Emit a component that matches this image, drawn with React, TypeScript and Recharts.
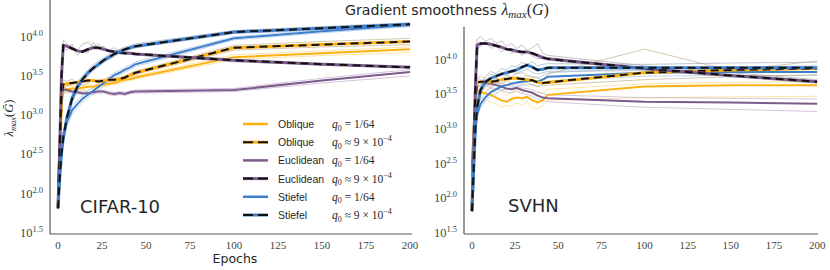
import React from 'react'
import { LineChart, Line, XAxis, YAxis } from 'recharts'

// epochs at which lambda_max was logged
const epochs = [0, 1, 2, 3, 5, 8, 11, 14, 17, 20, 23, 26, 29, 32, 35, 38, 41, 44, 100, 150, 200]
const xTicks = [0, 25, 50, 75, 100, 125, 150, 175, 200]
const yTicks = [1.5, 2.0, 2.5, 3.0, 3.5, 4.0] // log10 exponents

// ---- CIFAR-10, log10 lambda_max (mean + two seeds) ----
const cifarObliqueQ64 = [2.0, 2.6, 3.1, 3.30, 3.32, 3.33, 3.33, 3.34, 3.35, 3.35, 3.37, 3.38, 3.39, 3.40, 3.42, 3.44, 3.45, 3.47, 3.73, 3.78, 3.83]
const cifarObliqueQ64Runs = [
  [2.0, 2.6, 3.2, 3.36, 3.37, 3.35, 3.38, 3.36, 3.39, 3.37, 3.40, 3.41, 3.40, 3.43, 3.45, 3.46, 3.48, 3.49, 3.76, 3.81, 3.86],
  [2.0, 2.5, 3.0, 3.26, 3.28, 3.30, 3.29, 3.31, 3.31, 3.33, 3.34, 3.35, 3.37, 3.38, 3.39, 3.41, 3.43, 3.45, 3.70, 3.75, 3.79],
]
const cifarObliqueQ9 = [1.8, 2.5, 3.2, 3.38, 3.39, 3.40, 3.41, 3.42, 3.43, 3.43, 3.42, 3.43, 3.44, 3.44, 3.45, 3.47, 3.50, 3.53, 3.85, 3.89, 3.93]
const cifarObliqueQ9Runs = [
  [1.8, 2.5, 3.3, 3.44, 3.42, 3.45, 3.40, 3.46, 3.44, 3.41, 3.45, 3.43, 3.47, 3.45, 3.47, 3.49, 3.52, 3.55, 3.88, 3.93, 3.97],
  [1.8, 2.4, 3.1, 3.34, 3.36, 3.38, 3.42, 3.37, 3.40, 3.44, 3.40, 3.41, 3.42, 3.42, 3.44, 3.45, 3.48, 3.51, 3.82, 3.86, 3.89],
]
const cifarEuclideanQ64 = [2.0, 2.7, 3.2, 3.32, 3.31, 3.29, 3.28, 3.27, 3.27, 3.28, 3.29, 3.29, 3.27, 3.26, 3.27, 3.26, 3.28, 3.29, 3.31, 3.43, 3.54]
const cifarEuclideanQ64Runs = [
  [2.0, 2.7, 3.25, 3.35, 3.33, 3.31, 3.30, 3.30, 3.28, 3.30, 3.31, 3.30, 3.29, 3.28, 3.29, 3.28, 3.30, 3.31, 3.33, 3.46, 3.57],
  [2.0, 2.6, 3.15, 3.29, 3.28, 3.27, 3.26, 3.25, 3.25, 3.26, 3.27, 3.27, 3.25, 3.24, 3.25, 3.24, 3.26, 3.27, 3.29, 3.40, 3.49],
]
const cifarEuclideanQ9 = [1.8, 2.6, 3.5, 3.88, 3.87, 3.84, 3.81, 3.80, 3.83, 3.85, 3.85, 3.83, 3.81, 3.80, 3.79, 3.78, 3.78, 3.77, 3.69, 3.64, 3.60]
const cifarEuclideanQ9Runs = [
  [1.8, 2.6, 3.55, 3.95, 3.90, 3.86, 3.82, 3.90, 3.92, 3.86, 3.90, 3.84, 3.82, 3.85, 3.80, 3.80, 3.79, 3.78, 3.70, 3.64, 3.59],
  [1.8, 2.5, 3.45, 3.85, 3.82, 3.90, 3.75, 3.82, 3.78, 3.92, 3.84, 3.87, 3.80, 3.78, 3.81, 3.77, 3.78, 3.76, 3.67, 3.63, 3.61],
]
const cifarStiefelQ64 = [2.0, 2.3, 2.55, 2.7, 2.9, 3.05, 3.13, 3.2, 3.25, 3.30, 3.35, 3.40, 3.45, 3.50, 3.53, 3.57, 3.60, 3.64, 3.97, 4.06, 4.14]
const cifarStiefelQ64Runs = [
  [2.0, 2.35, 2.6, 2.75, 2.95, 3.1, 3.18, 3.24, 3.30, 3.34, 3.39, 3.44, 3.48, 3.53, 3.56, 3.60, 3.63, 3.67, 3.99, 4.08, 4.16],
  [2.0, 2.25, 2.5, 2.65, 2.85, 3.0, 3.08, 3.16, 3.21, 3.26, 3.31, 3.36, 3.42, 3.47, 3.50, 3.54, 3.57, 3.61, 3.95, 4.04, 4.12],
]
const cifarStiefelQ9 = [1.8, 2.2, 2.5, 2.7, 2.95, 3.2, 3.35, 3.45, 3.53, 3.59, 3.64, 3.69, 3.73, 3.77, 3.80, 3.83, 3.85, 3.87, 4.05, 4.10, 4.15]
const cifarStiefelQ9Runs = [
  [1.8, 2.25, 2.55, 2.75, 3.0, 3.25, 3.4, 3.5, 3.57, 3.63, 3.68, 3.72, 3.77, 3.80, 3.83, 3.86, 3.88, 3.90, 4.07, 4.12, 4.17],
  [1.8, 2.15, 2.45, 2.65, 2.9, 3.15, 3.3, 3.41, 3.49, 3.56, 3.61, 3.66, 3.70, 3.74, 3.78, 3.81, 3.83, 3.85, 4.03, 4.08, 4.13],
]

// ---- SVHN ----
const svhnObliqueQ64 = [2.4, 3.0, 3.4, 3.55, 3.52, 3.50, 3.48, 3.44, 3.40, 3.38, 3.42, 3.44, 3.43, 3.45, 3.40, 3.37, 3.40, 3.48, 3.60, 3.62, 3.62]
const svhnObliqueQ64Runs = [
  [2.4, 3.0, 3.45, 3.62, 3.60, 3.55, 3.58, 3.50, 3.54, 3.47, 3.52, 3.56, 3.50, 3.55, 3.48, 3.52, 3.50, 3.56, 3.64, 3.66, 3.67],
  [2.4, 2.9, 3.3, 3.47, 3.44, 3.40, 3.38, 3.35, 3.30, 3.33, 3.31, 3.36, 3.33, 3.38, 3.30, 3.28, 3.32, 3.40, 3.44, 3.45, 3.46],
]
const svhnObliqueQ9 = [1.8, 2.6, 3.4, 3.66, 3.67, 3.67, 3.67, 3.68, 3.70, 3.71, 3.72, 3.72, 3.71, 3.70, 3.69, 3.66, 3.65, 3.66, 3.80, 3.84, 3.86]
const svhnObliqueQ9Runs = [
  [1.8, 2.6, 3.45, 3.72, 3.75, 3.70, 3.78, 3.74, 3.80, 3.76, 3.82, 3.78, 3.80, 3.76, 3.74, 3.72, 3.70, 3.78, 4.14, 3.83, 3.97],
  [1.8, 2.5, 3.35, 3.60, 3.62, 3.64, 3.60, 3.66, 3.62, 3.68, 3.65, 3.66, 3.63, 3.66, 3.62, 3.60, 3.61, 3.62, 3.70, 3.74, 3.77],
]
const svhnEuclideanQ64 = [2.4, 3.0, 3.5, 3.67, 3.66, 3.65, 3.64, 3.62, 3.60, 3.57, 3.56, 3.58, 3.55, 3.53, 3.51, 3.47, 3.44, 3.43, 3.38, 3.37, 3.35]
const svhnEuclideanQ64Runs = [
  [2.4, 3.0, 3.55, 3.72, 3.70, 3.68, 3.70, 3.66, 3.65, 3.62, 3.60, 3.63, 3.58, 3.57, 3.55, 3.52, 3.50, 3.48, 3.44, 3.43, 3.42],
  [2.4, 2.9, 3.45, 3.62, 3.60, 3.61, 3.58, 3.57, 3.55, 3.52, 3.51, 3.53, 3.50, 3.48, 3.46, 3.42, 3.40, 3.38, 3.30, 3.27, 3.24],
]
const svhnEuclideanQ9 = [1.8, 2.6, 3.6, 4.20, 4.22, 4.22, 4.21, 4.19, 4.17, 4.14, 4.13, 4.11, 4.10, 4.10, 4.08, 4.05, 4.02, 4.00, 3.86, 3.76, 3.67]
const svhnEuclideanQ9Runs = [
  [1.8, 2.6, 3.7, 4.28, 4.32, 4.25, 4.30, 4.22, 4.26, 4.18, 4.22, 4.15, 4.20, 4.12, 4.16, 4.22, 4.08, 4.05, 3.90, 3.80, 3.70],
  [1.8, 2.5, 3.5, 4.14, 4.18, 4.24, 4.15, 4.20, 4.10, 4.16, 4.08, 4.12, 4.05, 4.10, 4.04, 4.00, 4.02, 3.98, 3.84, 3.74, 3.65],
]
const svhnStiefelQ64 = [2.3, 2.7, 3.0, 3.2, 3.35, 3.45, 3.52, 3.56, 3.60, 3.62, 3.64, 3.66, 3.67, 3.68, 3.68, 3.67, 3.70, 3.74, 3.80, 3.81, 3.81]
const svhnStiefelQ64Runs = [
  [2.3, 2.75, 3.05, 3.25, 3.42, 3.52, 3.58, 3.64, 3.66, 3.70, 3.71, 3.74, 3.72, 3.76, 3.74, 3.73, 3.76, 3.80, 3.86, 3.88, 3.90],
  [2.3, 2.65, 2.95, 3.15, 3.30, 3.40, 3.46, 3.50, 3.55, 3.56, 3.58, 3.60, 3.62, 3.62, 3.63, 3.61, 3.64, 3.68, 3.75, 3.76, 3.76],
]
const svhnStiefelQ9 = [1.8, 2.4, 3.0, 3.3, 3.55, 3.67, 3.72, 3.75, 3.78, 3.80, 3.82, 3.84, 3.88, 3.91, 3.88, 3.84, 3.85, 3.87, 3.87, 3.87, 3.87]
const svhnStiefelQ9Runs = [
  [1.8, 2.45, 3.05, 3.35, 3.62, 3.75, 3.82, 3.78, 3.86, 3.84, 3.90, 3.88, 3.95, 3.92, 3.96, 3.90, 3.92, 3.93, 3.92, 3.94, 3.95],
  [1.8, 2.35, 2.95, 3.25, 3.50, 3.60, 3.66, 3.72, 3.70, 3.76, 3.74, 3.80, 3.82, 3.86, 3.80, 3.78, 3.80, 3.82, 3.83, 3.82, 3.80],
]

const ORANGE = '#FDB10F'
const PURPLE = '#7B5A8C'
const BLUE = '#3D7FCC'
const INK = '#262626'
const SPINE = '#555'

type Series = { color: string; runColor: string; dashed: boolean; mean: number[]; runs: number[][] }

const style = {
  obliqueSolid: { color: ORANGE, runColor: '#FFD06A', dashed: false },
  obliqueDash: { color: ORANGE, runColor: '#B8A47C', dashed: true },
  euclidSolid: { color: PURPLE, runColor: '#B8A0C4', dashed: false },
  euclidDash: { color: PURPLE, runColor: '#9A9A9A', dashed: true },
  stiefelSolid: { color: BLUE, runColor: '#92B8E4', dashed: false },
  stiefelDash: { color: BLUE, runColor: '#8EA1B8', dashed: true },
}

const cifarSeries: Series[] = [
  { ...style.obliqueSolid, mean: cifarObliqueQ64, runs: cifarObliqueQ64Runs },
  { ...style.euclidSolid, mean: cifarEuclideanQ64, runs: cifarEuclideanQ64Runs },
  { ...style.stiefelSolid, mean: cifarStiefelQ64, runs: cifarStiefelQ64Runs },
  { ...style.obliqueDash, mean: cifarObliqueQ9, runs: cifarObliqueQ9Runs },
  { ...style.euclidDash, mean: cifarEuclideanQ9, runs: cifarEuclideanQ9Runs },
  { ...style.stiefelDash, mean: cifarStiefelQ9, runs: cifarStiefelQ9Runs },
]

const svhnSeries: Series[] = [
  { ...style.obliqueSolid, mean: svhnObliqueQ64, runs: svhnObliqueQ64Runs },
  { ...style.euclidSolid, mean: svhnEuclideanQ64, runs: svhnEuclideanQ64Runs },
  { ...style.stiefelSolid, mean: svhnStiefelQ64, runs: svhnStiefelQ64Runs },
  { ...style.obliqueDash, mean: svhnObliqueQ9, runs: svhnObliqueQ9Runs },
  { ...style.euclidDash, mean: svhnEuclideanQ9, runs: svhnEuclideanQ9Runs },
  { ...style.stiefelDash, mean: svhnStiefelQ9, runs: svhnStiefelQ9Runs },
]

function makeRows(series: Series[]) {
  return epochs.map((epoch, i) => {
    const row: Record<string, number> = { epoch }
    series.forEach((s, si) => {
      row[`m${si}`] = s.mean[i]
      s.runs.forEach((r, ri) => {
        row[`r${si}_${ri}`] = r[i]
      })
    })
    return row
  })
}

const serif = "'Liberation Serif', 'DejaVu Serif', serif"
const sans = "'DejaVu Sans', sans-serif"

const PowTick = (props: any) => {
  const { x, y, payload } = props
  return (
    <text x={x - 5} y={y + 5} textAnchor="end" fill="#444" fontFamily={serif} fontSize={12.5}>
      10
      <tspan dy={-5} fontSize={8.5}>{Number(payload.value).toFixed(1)}</tspan>
    </text>
  )
}

const EpochTick = (props: any) => {
  const { x, y, payload } = props
  return (
    <text x={x} y={y + 13} textAnchor="middle" fill="#444" fontFamily={serif} fontSize={11}>
      {payload.value}
    </text>
  )
}

type PanelProps = {
  series: Series[]
  left: number
  width: number
  marginTop: number
  marginRight: number
  domainX: [number, number]
}

function Panel({ series, left, width, marginTop, marginRight, domainX }: PanelProps) {
  const rows = makeRows(series)
  const solids = series.map((s, si) => ({ s, si })).filter((d) => !d.s.dashed)
  const dashes = series.map((s, si) => ({ s, si })).filter((d) => d.s.dashed)
  return (
    <div style={{ position: 'absolute', left, top: 0 }}>
      <LineChart width={width} height={270} data={rows} margin={{ top: marginTop, right: marginRight, left: 0, bottom: 16 }}>
        <XAxis
          type="number"
          dataKey="epoch"
          domain={domainX}
          allowDataOverflow
          ticks={xTicks}
          interval={0}
          tickLine={false}
          tickSize={0}
          height={20}
          axisLine={{ stroke: SPINE, strokeWidth: 1.2 }}
          tick={EpochTick}
        />
        <YAxis
          type="number"
          domain={[1.47, 4.46]}
          allowDataOverflow
          ticks={yTicks}
          interval={0}
          tickLine={false}
          tickSize={0}
          width={50}
          axisLine={{ stroke: SPINE, strokeWidth: 1.2 }}
          tick={PowTick}
        />
        {series.map((s, si) =>
          s.runs.map((_, ri) => (
            <Line
              key={`r${si}_${ri}`}
              dataKey={`r${si}_${ri}`}
              stroke={s.runColor}
              strokeOpacity={0.6}
              strokeWidth={1}
              dot={false}
              activeDot={false}
              type="linear"
              isAnimationActive={false}
            />
          ))
        )}
        {solids.map(({ s, si }) => (
          <Line key={`m${si}`} dataKey={`m${si}`} stroke={s.color} strokeWidth={2} dot={false} activeDot={false} type="linear" isAnimationActive={false} />
        ))}
        {dashes.map(({ s, si }) => [
          <Line key={`m${si}c`} dataKey={`m${si}`} stroke={s.color} strokeWidth={3} dot={false} activeDot={false} type="linear" isAnimationActive={false} />,
          <Line key={`m${si}k`} dataKey={`m${si}`} stroke="#111" strokeWidth={2} strokeDasharray="8 5" dot={false} activeDot={false} type="linear" isAnimationActive={false} />,
        ])}
      </LineChart>
    </div>
  )
}

const legendRows = [
  { name: 'Oblique', q: 'a', ...style.obliqueSolid },
  { name: 'Oblique', q: 'b', ...style.obliqueDash },
  { name: 'Euclidean', q: 'a', ...style.euclidSolid },
  { name: 'Euclidean', q: 'b', ...style.euclidDash },
  { name: 'Stiefel', q: 'a', ...style.stiefelSolid },
  { name: 'Stiefel', q: 'b', ...style.stiefelDash },
]

function QText({ x, y, kind }: { x: number; y: number; kind: string }) {
  return (
    <text x={x} y={y} fontFamily={serif} fontSize={11.5} fill={INK}>
      <tspan fontStyle="italic">q</tspan>
      <tspan fontSize={8} dy={2.5}>0</tspan>
      {kind === 'a' ? (
        <tspan dy={-2.5}> = 1/64</tspan>
      ) : (
        <>
          <tspan dy={-2.5}> ≈ 9 × 10</tspan>
          <tspan dy={-5} fontSize={8}>−4</tspan>
        </>
      )}
    </text>
  )
}

function Overlay() {
  return (
    <svg width={830} height={270} style={{ position: 'absolute', left: 0, top: 0, pointerEvents: 'none' }}>
      <text x={345} y={15} fontFamily={sans} fontSize={14.2} fill={INK}>
        Gradient smoothness{' '}
        <tspan fontFamily={serif} fontStyle="italic" fontSize={16}>λ</tspan>
        <tspan fontFamily={serif} fontStyle="italic" fontSize={11} dy={3}>max</tspan>
        <tspan fontFamily={serif} fontSize={16} dy={-3}>(</tspan>
        <tspan fontFamily={serif} fontStyle="italic" fontSize={16}>G</tspan>
        <tspan fontFamily={serif} fontSize={16}>)</tspan>
      </text>
      <text x={235} y={263} textAnchor="middle" fontFamily={sans} fontSize={12.5} fill={INK}>
        Epochs
      </text>
      <text transform="translate(13,118) rotate(-90)" textAnchor="middle" fontFamily={serif} fontSize={12.5} fill={INK}>
        <tspan fontStyle="italic">λ</tspan>
        <tspan fontStyle="italic" fontSize={8.5} dy={2.5}>max</tspan>
        <tspan dy={-2.5}>(</tspan>
        <tspan fontStyle="italic">Ḡ</tspan>
        <tspan>)</tspan>
      </text>
      <text x={80} y={213} fontFamily={sans} fontSize={18} fill={INK}>CIFAR-10</text>
      <text x={508} y={212} fontFamily={sans} fontSize={18} fill={INK}>SVHN</text>
      {legendRows.map((r, i) => {
        const y = 124 + i * 18.2
        return (
          <g key={i}>
            <line x1={243} x2={268} y1={y} y2={y} stroke={r.color} strokeWidth={r.dashed ? 3 : 2.5} />
            {r.dashed && <line x1={243} x2={268} y1={y} y2={y} stroke="#111" strokeWidth={2} strokeDasharray="10 5" />}
            <text x={278} y={y + 4} fontFamily="'Liberation Sans', sans-serif" fontSize={10.5} fill={INK}>
              {r.name}
            </text>
            <QText x={332} y={y + 4} kind={r.q} />
          </g>
        )
      })}
    </svg>
  )
}

export default function App() {
  return (
    <div style={{ position: 'absolute', left: 0, top: 0, width: 830, height: 270, background: '#fff', overflow: 'hidden' }}>
      <Panel series={cifarSeries} left={0} width={420} marginTop={0} marginRight={8} domainX={[-4.55, 201.1]} />
      <Panel series={svhnSeries} left={414} width={416} marginTop={27} marginRight={12} domainX={[-4.6, 200.5]} />
      <Overlay />
    </div>
  )
}
